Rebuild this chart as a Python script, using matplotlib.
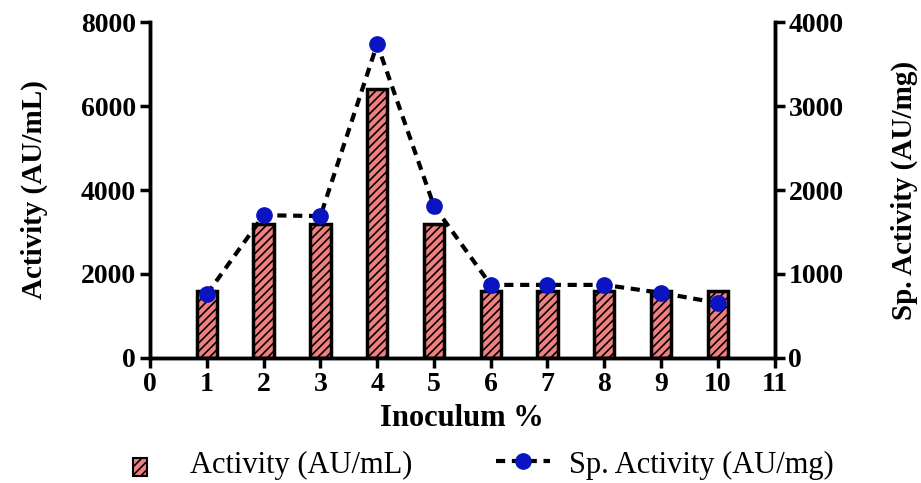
import matplotlib.pyplot as plt
import numpy as np
from matplotlib.legend_handler import HandlerPatch
from matplotlib.lines import Line2D
from matplotlib.patches import Patch, Rectangle

# Inoculum size vs. enzyme activity
inoculum = [1, 2, 3, 4, 5, 6, 7, 8, 9, 10]
activity = [1600, 3200, 3200, 6400, 3200, 1600, 1600, 1600, 1600, 1600]
sp_activity = [760, 1700, 1690, 3740, 1810, 870, 870, 870, 775, 655]

plt.rcParams["font.family"] = ["Liberation Serif", "DejaVu Serif"]
plt.rcParams["hatch.linewidth"] = 1.2

bar_color = "#F08080"
dot_color = "#0A14C0"
lw = 2.5
dash = (0, (2.2, 1.6))


def small_box(legend, orig_handle, xdescent, ydescent, width, height, fontsize):
    # narrow swatch for the bar entry, sitting at the left of its slot
    return Rectangle((xdescent + 12, -ydescent - 2), 10, 13)


fig = plt.figure(figsize=(9.21, 4.83), dpi=100)
ax = fig.add_axes((0.163, 0.259, 0.678, 0.695))
ax2 = ax.twinx()

ax.bar(inoculum, activity, width=0.36, color=bar_color, edgecolor="black",
       linewidth=lw, hatch="////", zorder=2)
ax2.plot(inoculum, sp_activity, linestyle=dash, color="black",
         linewidth=3, marker="o", markersize=11, markerfacecolor=dot_color,
         markeredgecolor=dot_color, zorder=3)

ax.set_xlim(0, 11)
ax.set_ylim(0, 8000)
ax2.set_ylim(0, 4000)
ax.set_xticks(np.arange(0, 12))
ax.set_yticks(np.arange(0, 8001, 2000))
ax2.set_yticks(np.arange(0, 4001, 1000))

for a in (ax, ax2):
    a.spines["top"].set_visible(False)
    for s in a.spines.values():
        s.set_linewidth(lw)
    a.tick_params(width=lw, length=7, labelsize=20, pad=3)
    for lab in a.get_xticklabels() + a.get_yticklabels():
        lab.set_fontweight("bold")

ax.set_xlabel("Inoculum %", fontsize=22, fontweight="bold", labelpad=5)
ax.set_ylabel("Activity (AU/mL)", fontsize=21, fontweight="bold", labelpad=24)
ax2.set_ylabel("Sp. Activity (AU/mg)", fontsize=21, fontweight="bold",
               rotation=90, labelpad=34)

handles = [
    Patch(facecolor=bar_color, edgecolor="black", hatch="////", linewidth=1.5),
    Line2D([], [], linestyle=dash, color="black", linewidth=3,
           marker="o", markersize=11, markerfacecolor=dot_color,
           markeredgecolor=dot_color),
]
fig.legend(handles, ["Activity (AU/mL)", "Sp. Activity (AU/mg)"],
           handler_map={Patch: HandlerPatch(patch_func=small_box)},
           loc="lower center", bbox_to_anchor=(0.516, -0.05), ncol=2,
           frameon=False, fontsize=22, handlelength=1.75, handleheight=0.8,
           columnspacing=2.75, handletextpad=0.65)

fig.savefig("out.png", dpi=100)
